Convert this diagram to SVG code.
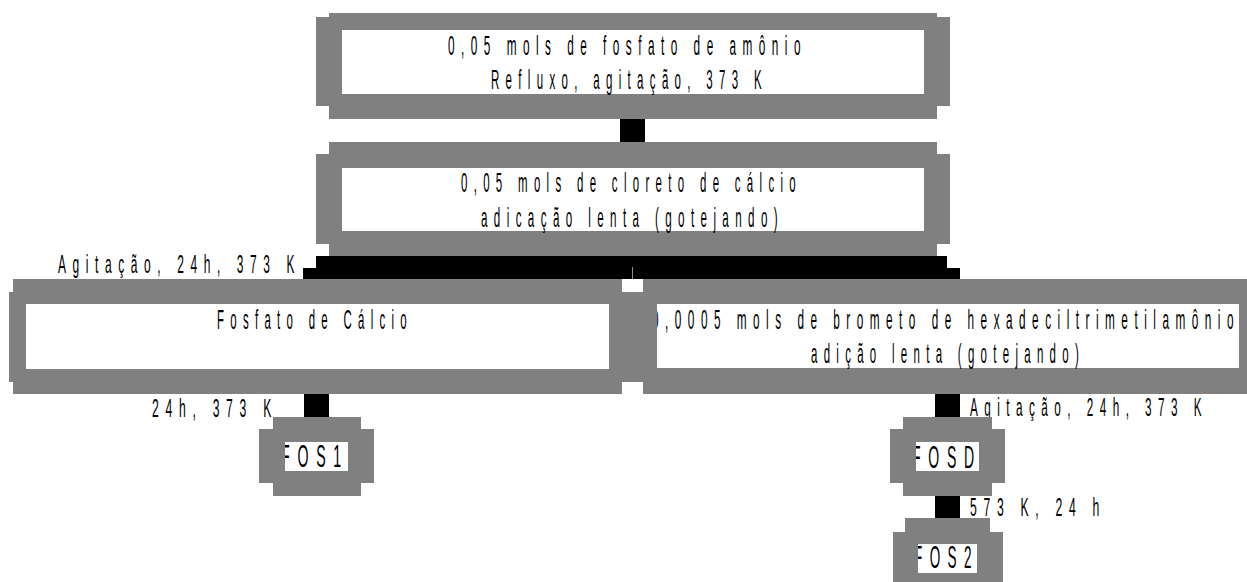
<svg xmlns="http://www.w3.org/2000/svg" width="1247" height="582" viewBox="0 0 1247 582">
<style>
.g{fill:#808080}
.w{fill:#ffffff}
.k{fill:#000000}
text{font-family:"Liberation Sans",Arial,sans-serif;fill:#000;letter-spacing:0.55em}
.b{font-size:28px}
.l{font-size:26px}
.f{font-size:31px}
</style>
<defs>
<clipPath id="c4"><rect x="657" y="304" width="582" height="64"/></clipPath>
<clipPath id="cf1"><rect x="285" y="442" width="63" height="29"/></clipPath>
<clipPath id="cfd"><rect x="916" y="442" width="63" height="29"/></clipPath>
<clipPath id="cf2"><rect x="918" y="544" width="59" height="29"/></clipPath>
</defs>
<rect width="1247" height="582" fill="#ffffff"/>
<g id="connectors">
<rect class="k" x="620" y="119" width="25" height="23"/>
<polygon class="k" points="316,256 947,256 947,268 960,268 960,279 303,279 303,268 316,268"/>
<line x1="632.5" y1="267" x2="632.5" y2="279" stroke="#909090" stroke-width="1"/>
<rect class="k" x="304" y="394" width="25" height="23"/>
<rect class="k" x="935" y="394" width="25" height="23"/>
<rect class="k" x="935" y="496" width="25" height="22"/>
<text class="l" x="58" y="273" textLength="243" lengthAdjust="spacingAndGlyphs">Agitação, 24h, 373 K</text>
<text class="l" x="152" y="417" textLength="126" lengthAdjust="spacingAndGlyphs">24h, 373 K</text>
<text class="l" x="970" y="416" textLength="238" lengthAdjust="spacingAndGlyphs">Agitação, 24h, 373 K</text>
<text class="l" x="970" y="516" textLength="136" lengthAdjust="spacingAndGlyphs">573 K, 24 h</text>
</g>
<g id="n1">
<rect class="g" x="329" y="13" width="608" height="106"/>
<rect class="g" x="316" y="17" width="634" height="89"/>
<rect class="w" x="342" y="30" width="582" height="64"/>
<text class="b" x="448" y="55" textLength="359" lengthAdjust="spacingAndGlyphs">0,05 mols de fosfato de amônio</text>
<text class="b" x="491" y="89" textLength="277" lengthAdjust="spacingAndGlyphs">Refluxo, agitação, 373 K</text>
</g>
<g id="n2">
<rect class="g" x="329" y="142" width="608" height="114"/>
<rect class="g" x="316" y="154" width="634" height="90"/>
<rect class="w" x="342" y="168" width="582" height="63"/>
<text class="b" x="461" y="192" textLength="341" lengthAdjust="spacingAndGlyphs">0,05 mols de cloreto de cálcio</text>
<text class="b" x="481" y="227" textLength="303" lengthAdjust="spacingAndGlyphs">adicação lenta (gotejando)</text>
</g>
<g id="n3">
<rect class="g" x="13" y="279" width="609" height="115"/>
<rect class="g" x="9" y="292" width="626" height="90"/>
<rect class="w" x="26" y="304" width="583" height="65"/>
<text class="b" x="217" y="329" textLength="196" lengthAdjust="spacingAndGlyphs">Fosfato de Cálcio</text>
</g>
<g id="n4">
<rect class="g" x="643" y="279" width="620" height="115"/>
<rect class="g" x="630" y="292" width="630" height="90"/>
<rect class="w" x="657" y="304" width="582" height="64"/>
<text class="b" x="652" y="329" textLength="588" lengthAdjust="spacingAndGlyphs" clip-path="url(#c4)">0,0005 mols de brometo de hexadeciltrimetilamônio</text>
<text class="b" x="811" y="363" textLength="274" lengthAdjust="spacingAndGlyphs">adição lenta (gotejando)</text>
</g>
<g id="fos1">
<rect class="g" x="273" y="417" width="88" height="79"/>
<rect class="g" x="259" y="429" width="115" height="54"/>
<rect class="w" x="285" y="442" width="63" height="29"/>
<text class="f" x="281" y="467" textLength="68" lengthAdjust="spacingAndGlyphs" clip-path="url(#cf1)">FOS1</text>
</g>
<g id="fosd">
<rect class="g" x="903" y="417" width="89" height="79"/>
<rect class="g" x="890" y="429" width="115" height="54"/>
<rect class="w" x="916" y="442" width="63" height="29"/>
<text class="f" x="912" y="468" textLength="70" lengthAdjust="spacingAndGlyphs" clip-path="url(#cfd)">FOSD</text>
</g>
<g id="fos2">
<rect class="g" x="905" y="518" width="85" height="70"/>
<rect class="g" x="893" y="532" width="110" height="56"/>
<rect class="w" x="918" y="544" width="59" height="29"/>
<text class="f" x="914" y="568" textLength="65" lengthAdjust="spacingAndGlyphs" clip-path="url(#cf2)">FOS2</text>
</g>
</svg>
